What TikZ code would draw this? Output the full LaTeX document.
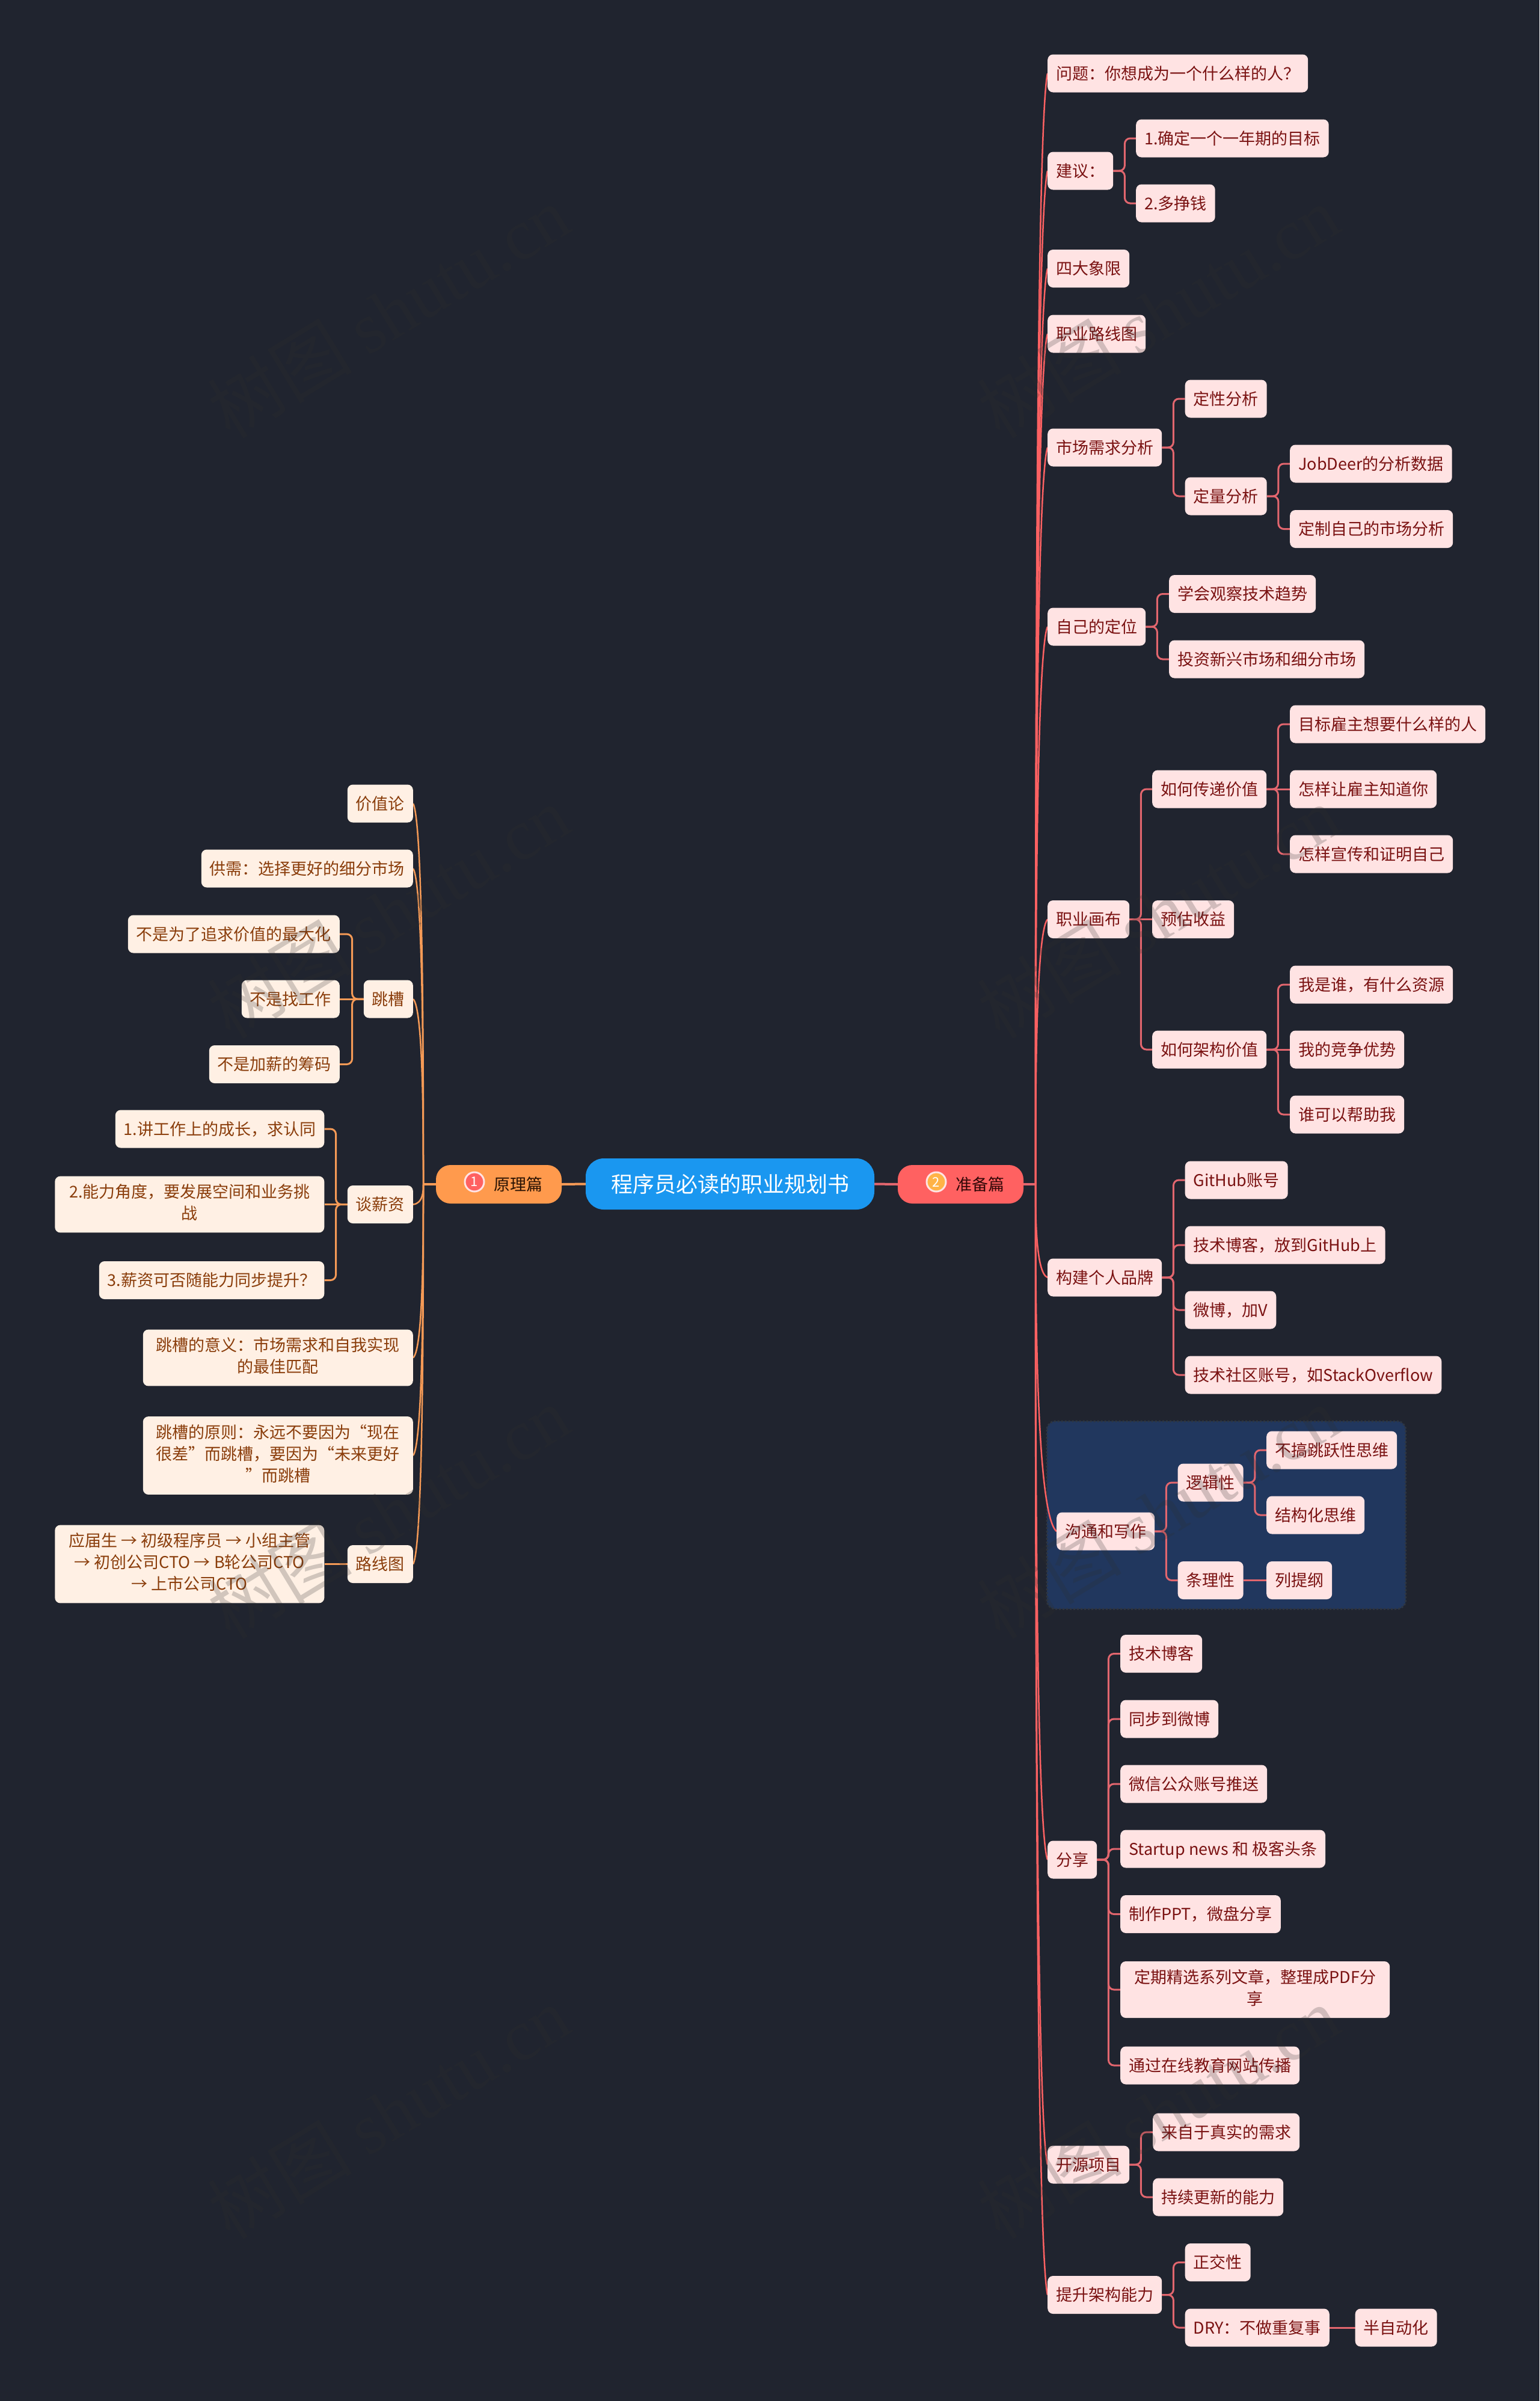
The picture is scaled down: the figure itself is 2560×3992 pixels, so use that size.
\documentclass[tikz,border=0pt]{standalone}
\usepackage{fontspec}
\usepackage{xcolor}
\setmainfont{Noto Sans CJK SC}
\newfontfamily\markfont{Liberation Serif}
\usetikzlibrary{calc,backgrounds}
\definecolor{pagebg}{HTML}{20242F}
\definecolor{groupbg}{HTML}{21375E}
\definecolor{groupedge}{HTML}{2E3642}
\definecolor{mainblue}{HTML}{1A97F0}
\definecolor{pillorange}{HTML}{FF9A4D}
\definecolor{pillred}{HTML}{FF6161}
\definecolor{badgeamber}{HTML}{FFB347}
\definecolor{pinkfill}{HTML}{FFE3E3}
\definecolor{pinktext}{HTML}{7A1212}
\definecolor{creamfill}{HTML}{FFF0E4}
\definecolor{creamtext}{HTML}{8A3D0B}
\definecolor{redline}{HTML}{E2666E}
\definecolor{orangeline}{HTML}{F59A56}
\definecolor{markgray}{HTML}{2E2E2E}
\newcommand{\leafstrut}{\rule[-8pt]{0pt}{36pt}}
\tikzset{
  leaf/.style={rounded corners=9, inner xsep=14, inner ysep=13.5, align=center,
    font=\fontsize{27}{36}\selectfont,
    execute at begin node=\leafstrut, execute at end node=\leafstrut},
  rleaf/.style={leaf, anchor=west, fill=pinkfill, text=pinktext},
  lleaf/.style={leaf, anchor=east, fill=creamfill, text=creamtext},
  pill/.style={rounded corners=24, minimum width=209, minimum height=64,
    font=\fontsize{27}{36}\selectfont},
  badge/.style={circle, inner sep=0, minimum size=32, line width=3, draw=pinkfill,
    text=white, font=\fontsize{22}{22}\selectfont},
  redsub/.style={draw=redline, line width=3, rounded corners=9},
  orangesub/.style={draw=orangeline, line width=3, rounded corners=9},
  watermark/.style={rotate=31.4, text=markgray, text opacity=0.22,
    font=\fontsize{120}{120}\selectfont}
}
\begin{document}
\begin{tikzpicture}[x=1pt, y=-1pt]
  \useasboundingbox (0,0) rectangle (2560,3992);
  \node[fill=mainblue, text=white, rounded corners=30, minimum width=480, minimum height=85,
    font=\fontsize{36}{40}\selectfont] (root) at (1214,1968.5) {程序员必读的职业规划书};
  \node[pill, fill=pillorange, text=black!70!creamtext] (yuanli) at (829.5,1969) {\hspace*{64pt}原理篇};
  \node[pill, fill=pillred, text=black!60!pinktext] (zhunbei) at (1597.5,1969) {\hspace*{64pt}准备篇};
  \node[badge, fill=pillred] (badgeone) at (789,1965) {1};
  \node[badge, fill=badgeamber] (badgetwo) at (1557,1965) {2};
  \coordinate (rhub) at (1722,1969);
  \coordinate (lhub) at (704,1969);

  \node[rleaf] (wenti) at (1742,122) {问题：你想成为一个什么样的人？};
  \node[rleaf] (jianyi) at (1742,284) {建议：};
  \node[rleaf] (mubiao) at (1889,230) {1.确定一个一年期的目标};
  \node[rleaf] (zhengqian) at (1889,338) {2.多挣钱};
  \node[rleaf] (xiangxian) at (1742,446.5) {四大象限};
  \node[rleaf] (luxian) at (1742,555) {职业路线图};
  \node[rleaf] (shichang) at (1742,744) {市场需求分析};
  \node[rleaf] (dingxing) at (1970.5,663) {定性分析};
  \node[rleaf] (dingliang) at (1970.5,825) {定量分析};
  \node[rleaf] (jobdeer) at (2145,771) {JobDeer的分析数据};
  \node[rleaf] (dingzhi) at (2145,879.5) {定制自己的市场分析};
  \node[rleaf] (dingwei) at (1742,1042) {自己的定位};
  \node[rleaf] (guancha) at (1944,987.5) {学会观察技术趋势};
  \node[rleaf] (touzi) at (1944,1096) {投资新兴市场和细分市场};
  \node[rleaf] (huabu) at (1742,1528.5) {职业画布};
  \node[rleaf] (chuandi) at (1916,1312) {如何传递价值};
  \node[rleaf] (yugu) at (1916,1528.5) {预估收益};
  \node[rleaf] (jiagou) at (1916,1745) {如何架构价值};
  \node[rleaf] (guzhu) at (2145,1204) {目标雇主想要什么样的人};
  \node[rleaf] (zhidao) at (2145,1312) {怎样让雇主知道你};
  \node[rleaf] (xuanchuan) at (2145,1420) {怎样宣传和证明自己};
  \node[rleaf] (ziyuan) at (2145,1637) {我是谁，有什么资源};
  \node[rleaf] (youshi) at (2145,1745) {我的竞争优势};
  \node[rleaf] (bangzhu) at (2145,1853) {谁可以帮助我};
  \node[rleaf] (pinpai) at (1742,2124) {构建个人品牌};
  \node[rleaf] (github) at (1970.5,1962) {GitHub账号};
  \node[rleaf] (boke) at (1970.5,2070) {技术博客，放到GitHub上};
  \node[rleaf] (weibo) at (1970.5,2178) {微博，加V};
  \node[rleaf] (shequ) at (1970.5,2286) {技术社区账号，如StackOverflow};
  \node[rleaf] (goutong) at (1757,2546) {沟通和写作};
  \node[rleaf] (luoji) at (1958.5,2465) {逻辑性};
  \node[rleaf] (tiaoli) at (1958.5,2627.5) {条理性};
  \node[rleaf] (tiaoyue) at (2106,2411) {不搞跳跃性思维};
  \node[rleaf] (jiegou) at (2106,2519) {结构化思维};
  \node[rleaf] (tigang) at (2106,2627.5) {列提纲};
  \node[rleaf] (fenxiang) at (1742,3092) {分享};
  \node[rleaf] (jishu) at (1863,2749.5) {技术博客};
  \node[rleaf] (tongbu) at (1863,2858) {同步到微博};
  \node[rleaf] (weixin) at (1863,2966) {微信公众账号推送};
  \node[rleaf] (startup) at (1863,3074) {Startup news 和 极客头条};
  \node[rleaf] (ppt) at (1863,3182.5) {制作PPT，微盘分享};
  \node[rleaf, minimum width=448] (jingxuan) at (1863,3308) {定期精选系列文章，整理成PDF分\\享};
  \node[rleaf] (zaixian) at (1863,3434) {通过在线教育网站传播};
  \node[rleaf] (kaiyuan) at (1742,3599) {开源项目};
  \node[rleaf] (zhenshi) at (1917,3545) {来自于真实的需求};
  \node[rleaf] (gengxin) at (1917,3653) {持续更新的能力};
  \node[rleaf] (tisheng) at (1742,3815.5) {提升架构能力};
  \node[rleaf] (zhengjiao) at (1970.5,3761.5) {正交性};
  \node[rleaf] (dry) at (1970.5,3870) {DRY：不做重复事};
  \node[rleaf] (banzidong) at (2253.5,3870) {半自动化};

  \node[lleaf] (jiazhi) at (687,1336) {价值论};
  \node[lleaf] (gongxu) at (687,1444) {供需：选择更好的细分市场};
  \node[lleaf] (tiaocao) at (687,1661) {跳槽};
  \node[lleaf] (zuidahua) at (565,1553) {不是为了追求价值的最大化};
  \node[lleaf] (zhaogongzuo) at (565,1661) {不是找工作};
  \node[lleaf] (chouma) at (565,1769.5) {不是加薪的筹码};
  \node[lleaf] (tanxin) at (687,2002.5) {谈薪资};
  \node[lleaf] (chengzhang) at (539.5,1877) {1.讲工作上的成长，求认同};
  \node[lleaf, minimum width=448] (nengli) at (539.5,2002.5) {2.能力角度，要发展空间和业务挑\\战};
  \node[lleaf] (tongbuti) at (539.5,2128.5) {3.薪资可否随能力同步提升？};
  \node[lleaf, minimum width=449] (yiyi) at (687,2257.5) {跳槽的意义：市场需求和自我实现\\的最佳匹配};
  \node[lleaf, minimum width=449] (yuanze) at (687,2420) {跳槽的原则：永远不要因为“现在\\很差”而跳槽，要因为“未来更好\\”而跳槽};
  \node[lleaf] (lujing) at (687,2600.5) {路线图};
  \node[lleaf, minimum width=448] (yingjie) at (539.5,2600.5) {应届生 → 初级程序员 → 小组主管\\→ 初创公司CTO → B轮公司CTO\\→ 上市公司CTO};

  \foreach \row in {0,1,2,3}
    \foreach \col in {646,1926}
      \node[watermark] (mark\col\row) at (\col,518+998*\row) {树图 {\markfont shutu.cn}};

  \begin{scope}[on background layer]
    \fill[pagebg] (0,0) rectangle (2560,3992);
    \draw[fill=groupbg, draw=groupedge, line width=3, dashed, rounded corners=14] (1741,2363) rectangle (2337.5,2675);
    \draw[orangeline, line width=4] (root.west) -- (yuanli.east);
    \draw[orangeline, line width=4] (yuanli.west) -- (lhub);
    \draw[redline, line width=4] (root.east) -- (zhunbei.west);
    \draw[redline, line width=4] (zhunbei.east) -- (rhub);
    \foreach \kid in {wenti,jianyi,xiangxian,luxian,shichang,dingwei,huabu,pinpai,goutong,fenxiang,kaiyuan,tisheng}
      \draw[pillred!90!redline, line width=2.5] (rhub) .. controls ($(rhub)!0.3!(rhub|-\kid.west)$) and ($(rhub)!0.95!(rhub|-\kid.west)$) .. (\kid.west);
    \foreach \kid in {jiazhi,gongxu,tiaocao,tanxin,yiyi,yuanze,lujing}
      \draw[orangeline, line width=2.5] (lhub) .. controls ($(lhub)!0.3!(lhub|-\kid.east)$) and ($(lhub)!0.95!(lhub|-\kid.east)$) .. (\kid.east);
    \foreach \top/\kid in {jianyi/mubiao,jianyi/zhengqian,shichang/dingxing,shichang/dingliang,dingliang/jobdeer,dingliang/dingzhi,dingwei/guancha,dingwei/touzi,huabu/chuandi,huabu/jiagou,chuandi/guzhu,chuandi/xuanchuan,jiagou/ziyuan,jiagou/bangzhu,pinpai/github,pinpai/boke,pinpai/weibo,pinpai/shequ,goutong/luoji,goutong/tiaoli,luoji/tiaoyue,luoji/jiegou,fenxiang/jishu,fenxiang/tongbu,fenxiang/weixin,fenxiang/startup,fenxiang/ppt,fenxiang/jingxuan,fenxiang/zaixian,kaiyuan/zhenshi,kaiyuan/gengxin,tisheng/zhengjiao,tisheng/dry}
      \draw[redsub] (\top.east) -- ++(19,0) |- (\kid.west);
    \foreach \top/\kid in {huabu/yugu,chuandi/zhidao,jiagou/youshi,tiaoli/tigang,dry/banzidong}
      \draw[redsub] (\top.east) -- (\kid.west);
    \foreach \top/\kid in {tiaocao/zuidahua,tiaocao/chouma,tanxin/chengzhang,tanxin/tongbuti}
      \draw[orangesub] (\top.west) -- ++(-19,0) |- (\kid.east);
    \foreach \top/\kid in {tiaocao/zhaogongzuo,tanxin/nengli,lujing/yingjie}
      \draw[orangesub] (\top.west) -- (\kid.east);
  \end{scope}
\end{tikzpicture}
\end{document}
